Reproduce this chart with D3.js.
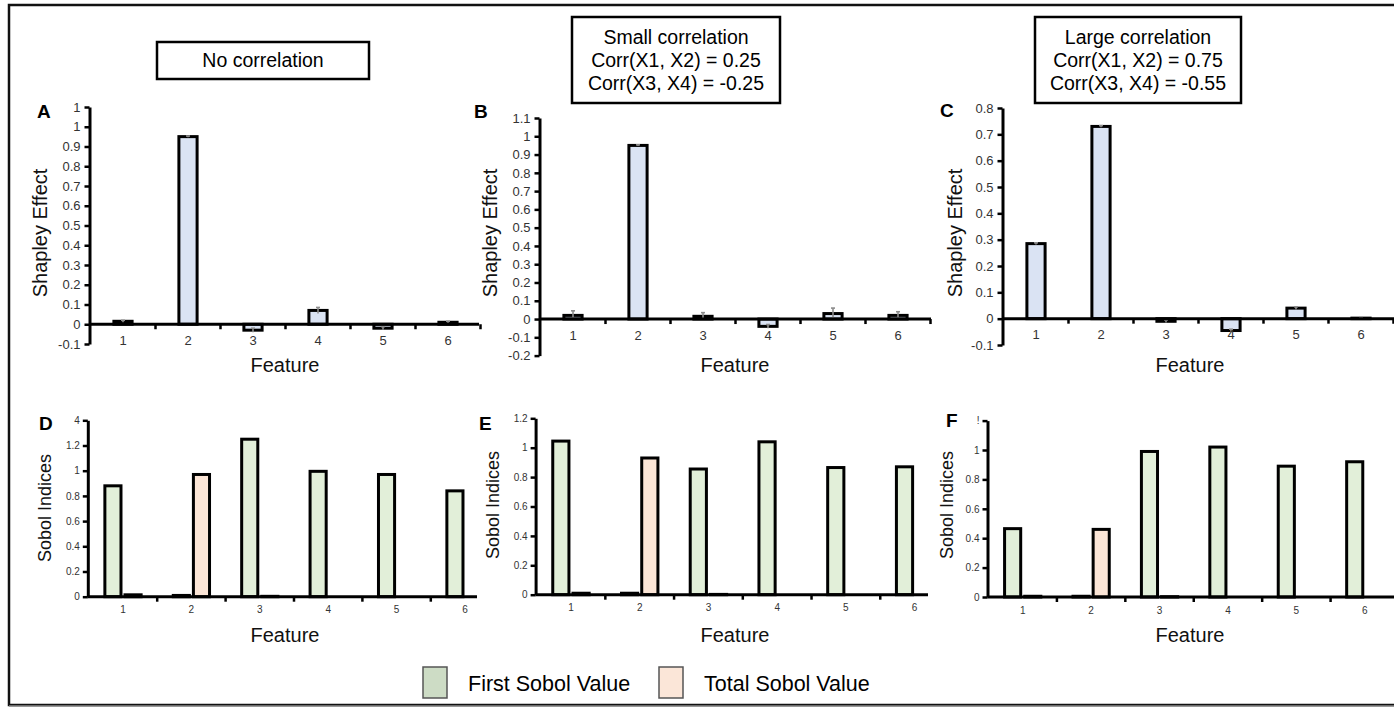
<!DOCTYPE html>
<html>
<head>
<meta charset="utf-8">
<script src="https://cdn.jsdelivr.net/npm/d3@7/dist/d3.min.js"></script>
<style>
  html, body { margin: 0; padding: 0; background: #fff; }
  svg { display: block; font-family: "Liberation Sans", Arial, Helvetica, sans-serif; }
</style>
</head>
<body>
<svg id="fig" width="1394" height="709"></svg>
<script>
// ---- data ----
const features = ["1", "2", "3", "4", "5", "6"];

// Shapley effects (with small standard errors)
const shapleyA = [0.015, 0.95, -0.03, 0.07, -0.02, 0.01];
const shapleyErrA = [0.005, 0.003, 0.01, 0.015, 0.008, 0.005];
const shapleyB = [0.02, 0.95, 0.015, -0.04, 0.03, 0.02];
const shapleyErrB = [0.025, 0.003, 0.02, 0.01, 0.03, 0.02];
const shapleyC = [0.285, 0.73, -0.01, -0.045, 0.04, 0.002];
const shapleyErrC = [0.003, 0.003, 0.005, 0.005, 0.005, 0.002];

// Sobol indices
const firstSobolD = [0.88, 0.01, 1.25, 0.995, 0.97, 0.84];
const totalSobolD = [0.015, 0.97, 0.003, 0, 0, 0];
const firstSobolE = [1.045, 0.01, 0.855, 1.04, 0.865, 0.87];
const totalSobolE = [0.01, 0.93, 0.002, 0, 0, 0];
const firstSobolF = [0.465, 0.005, 0.99, 1.02, 0.89, 0.92];
const totalSobolF = [0.005, 0.46, 0.002, 0, 0, 0];

// y tick values and their printed labels
const tickValsA = [-0.1, 0, 0.1, 0.2, 0.3, 0.4, 0.5, 0.6, 0.7, 0.8, 0.9, 1.0, 1.1];
const tickLabsA = ["-0.1", "0", "0.1", "0.2", "0.3", "0.4", "0.5", "0.6", "0.7", "0.8", "0.9", "1", "1"];
const tickValsB = [-0.2, -0.1, 0, 0.1, 0.2, 0.3, 0.4, 0.5, 0.6, 0.7, 0.8, 0.9, 1.0, 1.1];
const tickLabsB = ["-0.2", "-0.1", "0", "0.1", "0.2", "0.3", "0.4", "0.5", "0.6", "0.7", "0.8", "0.9", "1", "1.1"];
const tickValsC = [-0.1, 0, 0.1, 0.2, 0.3, 0.4, 0.5, 0.6, 0.7, 0.8];
const tickLabsC = ["-0.1", "0", "0.1", "0.2", "0.3", "0.4", "0.5", "0.6", "0.7", "0.8"];
const tickValsD = [0, 0.2, 0.4, 0.6, 0.8, 1.0, 1.2, 1.4];
const tickLabsD = ["0", "0.2", "0.4", "0.6", "0.8", "1", "1.2", "4"];
const tickValsE = [0, 0.2, 0.4, 0.6, 0.8, 1.0, 1.2];
const tickLabsE = ["0", "0.2", "0.4", "0.6", "0.8", "1", "1.2"];
const tickValsF = [0, 0.2, 0.4, 0.6, 0.8, 1.0, 1.2];
const tickLabsF = ["0", "0.2", "0.4", "0.6", "0.8", "1", "!"];

const titleNone = ["No correlation"];
const titleSmall = ["Small correlation", "Corr(X1, X2) = 0.25", "Corr(X3, X4) = -0.25"];
const titleLarge = ["Large correlation", "Corr(X1, X2) = 0.75", "Corr(X3, X4) = -0.55"];
const legendLabels = ["First Sobol Value", "Total Sobol Value"];

// ---- styles ----
const BLUE = "#dae3f3", GREEN = "#e2efd9", SALMON = "#fbe5d6";
const LEG_GREEN = "#cddcc5", LEG_SALMON = "#fbe6d8";

const svg = d3.select("#fig");

// outer frame
svg.append("rect").attr("x", 9).attr("y", 5).attr("width", 1400).attr("height", 700)
  .attr("fill", "none").attr("stroke", "#111").attr("stroke-width", 2.5);
svg.append("line").attr("x1", 9).attr("x2", 1394).attr("y1", 706).attr("y2", 706)
  .attr("stroke", "#8a8a8a").attr("stroke-width", 1.5);

// ---- generic panel drawer ----
function drawPanel(p) {
  const g = svg.append("g");
  const x = d3.scaleBand().domain(features).range(p.xRange).padding(0);
  const y = d3.scaleLinear().domain(p.yDomain).range(p.yRange);
  const y0 = y(0);

  if (p.type === "shapley") {
    const bw = x.bandwidth() * 0.28;
    const rows = features.map((f, i) => ({ f, v: p.values[i], e: p.errors[i] }));
    g.selectAll("rect.bar").data(rows).join("rect")
      .attr("class", "bar")
      .attr("x", d => x(d.f) + x.bandwidth() / 2 - bw / 2)
      .attr("width", bw)
      .attr("y", d => Math.min(y(d.v), y0))
      .attr("height", d => Math.abs(y(d.v) - y0))
      .attr("fill", BLUE).attr("stroke", "#000").attr("stroke-width", 3);
    // error bars
    const eg = g.selectAll("g.err").data(rows).join("g").attr("class", "err")
      .attr("stroke", "#8c8c8c").attr("stroke-width", 1.6);
    eg.append("line")
      .attr("x1", d => x(d.f) + x.bandwidth() / 2).attr("x2", d => x(d.f) + x.bandwidth() / 2)
      .attr("y1", d => y(d.v - d.e)).attr("y2", d => y(d.v + d.e));
    eg.append("line")
      .attr("x1", d => x(d.f) + x.bandwidth() / 2 - 2).attr("x2", d => x(d.f) + x.bandwidth() / 2 + 2)
      .attr("y1", d => y(d.v + d.e)).attr("y2", d => y(d.v + d.e));
  } else {
    const inner = d3.scaleBand().domain(["first", "total"])
      .range([-x.bandwidth() * 0.265, x.bandwidth() * 0.265]).paddingInner(0.2);
    const rows = [];
    features.forEach((f, i) => {
      rows.push({ f, s: "first", v: p.first[i] });
      rows.push({ f, s: "total", v: p.total[i] });
    });
    g.selectAll("rect.bar").data(rows.filter(d => d.v > 0)).join("rect")
      .attr("class", "bar")
      .attr("x", d => x(d.f) + x.bandwidth() / 2 + inner(d.s))
      .attr("width", inner.bandwidth())
      .attr("y", d => y(d.v))
      .attr("height", d => y0 - y(d.v))
      .attr("fill", d => d.s === "first" ? GREEN : SALMON)
      .attr("stroke", "#000").attr("stroke-width", 3);
  }

  // y axis
  const yAxis = d3.axisLeft(y).tickValues(p.tickVals)
    .tickFormat((d, i) => p.tickLabs[i]).tickSize(5).tickSizeOuter(0).tickPadding(p.tickPad);
  const ya = g.append("g").attr("transform", `translate(${p.xRange[0] - 1},0)`).call(yAxis);
  ya.select(".domain").attr("stroke", "#000").attr("stroke-width", 3);
  ya.selectAll(".tick line").attr("stroke", "#000").attr("stroke-width", 2.5);
  ya.selectAll(".tick text").attr("fill", "#333").style("font-size", p.tickFont + "px")
    .style("font-family", "'Liberation Sans', Arial, sans-serif");

  // x axis along zero; category dividers only where the axis line reaches
  g.append("line").attr("x1", p.xRange[0] - 1).attr("x2", p.axisEnd)
    .attr("y1", y0).attr("y2", y0).attr("stroke", "#000").attr("stroke-width", 3);
  g.selectAll("line.xt").data(features.filter(d => x(d) + x.bandwidth() <= p.axisEnd + 2))
    .join("line").attr("class", "xt")
    .attr("x1", d => x(d) + x.bandwidth()).attr("x2", d => x(d) + x.bandwidth())
    .attr("y1", y0).attr("y2", y0 + 5)
    .attr("stroke", "#000").attr("stroke-width", 2.5);
  g.selectAll("text.xl").data(features).join("text").attr("class", "xl")
    .attr("x", d => x(d) + x.bandwidth() / 2).attr("y", y0 + p.xLabOff)
    .attr("text-anchor", "middle").attr("dy", "0.35em")
    .attr("fill", "#333").style("font-size", p.tickFont + "px").text(d => d);

  // axis titles
  g.append("text").attr("x", p.featX).attr("y", p.featY).attr("text-anchor", "middle")
    .attr("dy", "0.35em").style("font-size", "20px").attr("fill", "#111").text("Feature");
  g.append("text").attr("transform", `translate(${p.yLabX},${p.yLabY}) rotate(-90)`)
    .attr("text-anchor", "middle").attr("dy", "0.35em")
    .style("font-size", p.yLabFont + "px").attr("fill", "#111").text(p.yLab);

  // panel letter
  g.append("text").attr("x", p.letterX).attr("y", p.letterY)
    .style("font-size", "19px").style("font-weight", "bold").attr("fill", "#000").text(p.letter);
}

const topCommon = { type: "shapley", tickFont: 13, tickPad: 4, xLabOff: 16, yLab: "Shapley Effect", yLabFont: 20, featY: 365 };
const botCommon = { type: "sobol", tickFont: 10, tickPad: 3, xLabOff: 13, yLab: "Sobol Indices", yLabFont: 18, featY: 635 };

drawPanel({ ...topCommon, letter: "A", values: shapleyA, errors: shapleyErrA,
  xRange: [90.5, 480.5], yDomain: [-0.1, 1.1], yRange: [344, 107], axisEnd: 479,
  tickVals: tickValsA, tickLabs: tickLabsA, featX: 285, yLabX: 40, yLabY: 233, letterX: 37, letterY: 118 });
drawPanel({ ...topCommon, letter: "B", values: shapleyB, errors: shapleyErrB,
  xRange: [540.5, 930.5], yDomain: [-0.2, 1.1], yRange: [355.6, 118], axisEnd: 931,
  tickVals: tickValsB, tickLabs: tickLabsB, featX: 735, yLabX: 490, yLabY: 233, letterX: 474, letterY: 118 });
drawPanel({ ...topCommon, letter: "C", values: shapleyC, errors: shapleyErrC,
  xRange: [1003.5, 1393.5], yDomain: [-0.1, 0.8], yRange: [345, 108], axisEnd: 1394,
  tickVals: tickValsC, tickLabs: tickLabsC, featX: 1190, yLabX: 955, yLabY: 233, letterX: 940, letterY: 117 });

drawPanel({ ...botCommon, letter: "D", first: firstSobolD, total: totalSobolD,
  xRange: [88.8, 499.2], yDomain: [0, 1.4], yRange: [596.7, 420.3], axisEnd: 477,
  tickVals: tickValsD, tickLabs: tickLabsD, featX: 285, yLabX: 45, yLabY: 508, letterX: 39, letterY: 430 });
drawPanel({ ...botCommon, letter: "E", first: firstSobolE, total: totalSobolE,
  xRange: [536.6, 949], yDomain: [0, 1.2], yRange: [594.7, 418.3], axisEnd: 928,
  tickVals: tickValsE, tickLabs: tickLabsE, featX: 735, yLabX: 493, yLabY: 505, letterX: 479, letterY: 430 });
drawPanel({ ...botCommon, letter: "F", first: firstSobolF, total: totalSobolF,
  xRange: [988.5, 1399], yDomain: [0, 1.2], yRange: [597, 420.6], axisEnd: 1394,
  tickVals: tickValsF, tickLabs: tickLabsF, featX: 1190, yLabX: 947, yLabY: 505, letterX: 946, letterY: 427 });

// ---- condition boxes ----
function titleBox(lines, x0, y0, w, h, cy, lh) {
  svg.append("rect").attr("x", x0).attr("y", y0).attr("width", w).attr("height", h)
    .attr("fill", "#fff").attr("stroke", "#000").attr("stroke-width", 2.5);
  svg.selectAll(null).data(lines).join("text")
    .attr("x", x0 + w / 2).attr("y", (d, i) => cy + i * lh)
    .attr("text-anchor", "middle").attr("dy", "0.35em")
    .style("font-size", "19.5px").attr("fill", "#000").text(d => d);
}
titleBox(titleNone, 157, 42, 212, 37, 60.5, 0);
titleBox(titleSmall, 572, 17, 208, 86, 37, 23);
titleBox(titleLarge, 1035, 17, 206, 86, 37, 23);

// ---- legend ----
const legend = svg.append("g");
const legendItems = [
  { label: legendLabels[0], fill: LEG_GREEN, x: 423 },
  { label: legendLabels[1], fill: LEG_SALMON, x: 659 }
];
legend.selectAll("rect").data(legendItems).join("rect")
  .attr("x", d => d.x).attr("y", 667).attr("width", 24).attr("height", 31)
  .attr("fill", d => d.fill).attr("stroke", "#555").attr("stroke-width", 1.5);
legend.selectAll("text").data(legendItems).join("text")
  .attr("x", d => d.x + 45).attr("y", 683).attr("dy", "0.35em")
  .style("font-size", "21.5px").attr("fill", "#000").text(d => d.label);
</script>
</body>
</html>
